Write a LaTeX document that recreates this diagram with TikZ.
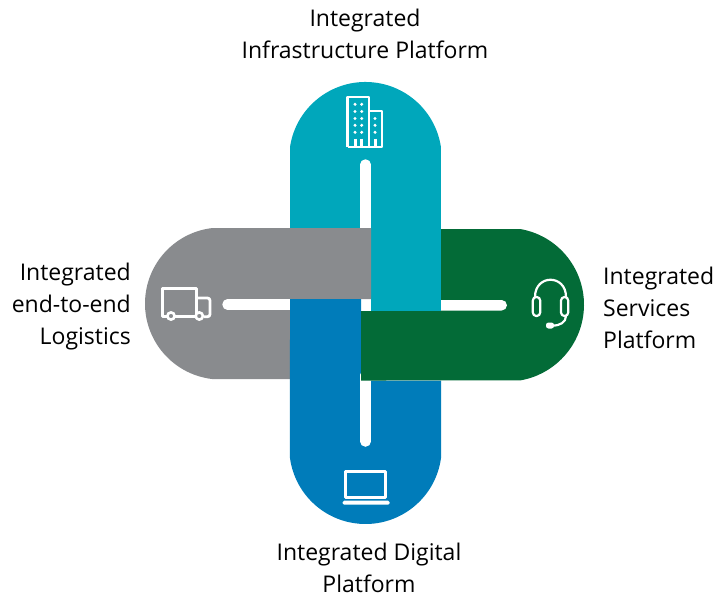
\documentclass[tikz,border=0pt]{standalone}
\usepackage{fontspec}
\setmainfont{Open Sans}
\definecolor{tealc}{HTML}{00A7BB}
\definecolor{grayc}{HTML}{898B8E}
\definecolor{greenc}{HTML}{036B37}
\definecolor{bluec}{HTML}{007CBA}
\tikzset{
  slit/.style={white,line width=10.5pt,line cap=round},
  icon/.style={white,line width=2.8pt,line join=round},
  thinicon/.style={white,line width=2.2pt,line join=round}
}
\begin{document}
\begin{tikzpicture}[x=1pt,y=-1pt]
  \useasboundingbox (0,0) rectangle (714,595);
  % infrastructure
  \fill[tealc] (290,147) arc[start angle=188.5,end angle=351.5,radius=76.3] -- (441,311) -- (371,311) -- (371,228) -- (290,228) -- cycle;
  \draw[slit] (365.5,164.5) -- (365.5,235);
  % logistics
  \fill[grayc] (212,379) arc[start angle=96.8,end angle=263.2,radius=76] -- (371,228) -- (371,299) -- (290,299) -- (290,379) -- cycle;
  \draw[slit] (227.5,304.5) -- (295,304.5);
  % digital
  \fill[bluec] (441,458) arc[start angle=7.7,end angle=172.3,radius=76.2] -- (290,299) -- (361,299) -- (361,380.5) -- (441,380.5) -- cycle;
  \draw[slit] (365.5,375) -- (365.5,441.5);
  % services
  \fill[greenc] (520,229) arc[start angle=-80.4,end angle=80.4,radius=76.8] -- (361,380.5) -- (361,311) -- (441,311) -- (441,229) -- cycle;
  \fill[white] (441,300) -- (501.7,300) arc[start angle=-90,end angle=90,radius=5.25] -- (441,310.5) -- cycle;
  % building
  \draw[icon] (347.5,147) -- (347.5,97) -- (369,97) -- (369,147);
  \draw[icon] (369,111) -- (382,111) -- (382,147) -- (347.5,147);
  \foreach \wy in {104.3,111.5,118.5,125.3,132.3} {
    \fill[white] (355,\wy) circle (1.7);
    \fill[white] (361.7,\wy) circle (1.7);
  }
  \foreach \wy in {118.5,125.3,132.3} {
    \fill[white] (375,\wy) circle (1.7);
  }
  \draw[thinicon,line width=3pt] (355,138.5) -- (355,147);
  \draw[thinicon,line width=3pt] (361.7,138.5) -- (361.7,147);
  \draw[thinicon,line width=3pt] (375,138.5) -- (375,147);
  % truck
  \draw[icon] (167,316.7) -- (162.5,316.7) -- (162.5,288.5) -- (196.7,288.5) -- (196.7,316.7);
  \draw[icon,rounded corners=2.5pt] (196.7,298) -- (210,298) -- (210,316.7) -- (204,316.7);
  \draw[icon] (195,316.7) -- (175,316.7);
  \draw[icon,fill=grayc,line width=2.6pt] (171,316) circle (3.6);
  \draw[icon,fill=grayc,line width=2.6pt] (199.3,316) circle (3.6);
  % headset
  \draw[thinicon] (535,297) .. controls (535,274) and (566,274) .. (566,297);
  \draw[thinicon,rounded corners=3.5pt] (532.8,297) rectangle (540.2,316);
  \draw[thinicon,rounded corners=3.5pt] (561,297) rectangle (568.2,316);
  \draw[thinicon] (566,316) .. controls (566,322) and (560,326) .. (552,325.5);
  \fill[white,rounded corners=2.5pt] (546,322.5) rectangle (554,328.5);
  % laptop
  \draw[icon] (345.2,471.5) rectangle (385.5,497.5);
  \fill[white,rounded corners=1.5pt] (342.7,500.7) rectangle (389.7,504.7);
  % labels
  \begin{scope}[every node/.style={font=\fontsize{23}{32}\selectfont,inner sep=0pt}]
    \node[align=center] (infra) at (365,34) {Integrated\\Infrastructure Platform};
    \node[align=right,anchor=east] (logi) at (131,307) {Integrated\\end-to-end\\Logistics};
    \node[align=left,anchor=west] (serv) at (603,308) {Integrated\\Services\\Platform};
    \node[align=center] (digi) at (369,567.5) {Integrated Digital\\Platform};
  \end{scope}
\end{tikzpicture}
\end{document}
